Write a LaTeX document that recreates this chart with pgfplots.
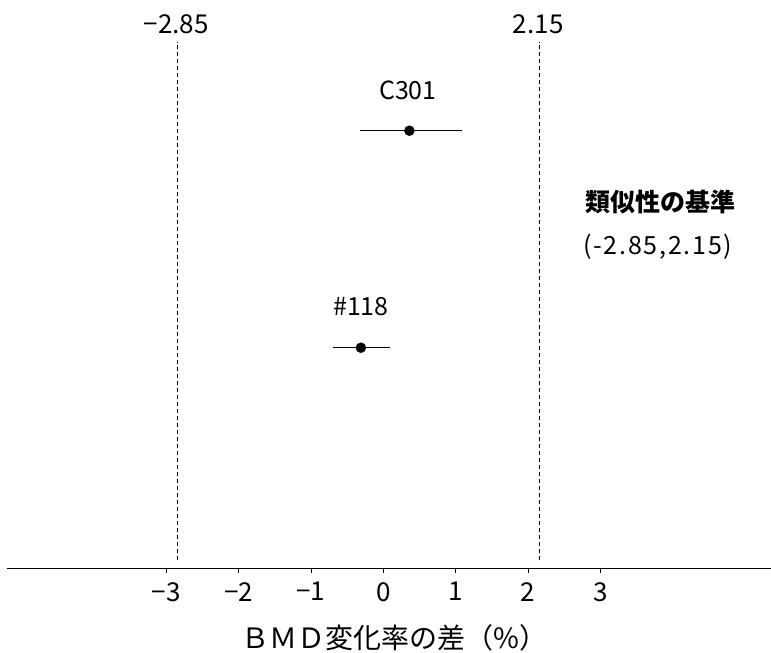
\documentclass[border=0pt]{standalone}
\usepackage{fontspec}
\setmainfont{Noto Sans CJK JP}
\usepackage{pgfplots}
\pgfplotsset{compat=1.18}
\begin{document}
\begin{tikzpicture}[x=1pt,y=1pt]
\begin{axis}[
  at={(7pt,85pt)}, anchor=south west,
  scale only axis, width=764pt, height=545.8pt,
  xmin=-5.198, xmax=5.355, ymin=-0.015, ymax=2.5,
  axis x line=bottom, axis y line=none,
  axis line style={-, line width=0.8pt},
  xtick={-3,-2,-1,0,1,2,3},
  xticklabels={−3,−2,−1,0,1,2,3},
  tick align=outside, major tick length=5pt,
  tick style={line width=0.8pt, black},
  xticklabel style={font=\fontsize{26}{30}\selectfont, anchor=north, inner sep=0pt, yshift=-9pt},
  clip=false,
]
\addplot[black, line width=0.8pt, dash pattern=on 4pt off 3pt] coordinates {(-2.85,0.02) (-2.85,2.41)};
\addplot[black, line width=0.8pt, dash pattern=on 4pt off 3pt] coordinates {(2.15,0.02) (2.15,2.41)};
\addplot[black, only marks, mark=*, mark size=5pt,
  error bars/.cd, x dir=both, x explicit, error mark=none,
  error bar style={line width=0.9pt, black}]
  coordinates {
    (0.36,2) -= (0.68,0) += (0.72,0)
    (-0.31,1) -= (0.39,0) += (0.40,0)
  };
\node[font=\fontsize{26}{30}\selectfont] at (axis cs:-2.86,2.49) {−2.85};
\node[font=\fontsize{26}{30}\selectfont] at (axis cs:2.14,2.49) {2.15};
\node[font=\fontsize{25}{29}\selectfont] at (axis cs:0.34,2.188) {C301};
\node[font=\fontsize{25}{29}\selectfont] at (axis cs:-0.31,1.188) {\#118};
\node[font=\fontsize{25}{29}\selectfont\bfseries] at (axis cs:3.83,1.672) {類似性の基準};
\node[font=\fontsize{25}{29}\selectfont\addfontfeature{LetterSpace=7}] at (axis cs:3.79,1.464) {(-2.85,2.15)};
\node[font=\fontsize{28}{32}\selectfont] at (axis cs:0.15,-0.015) [yshift=-70pt] {ＢＭＤ変化率の差（\%）};
\end{axis}
\pgfresetboundingbox
\path (0,0) rectangle (771,653);
\end{tikzpicture}
\end{document}
